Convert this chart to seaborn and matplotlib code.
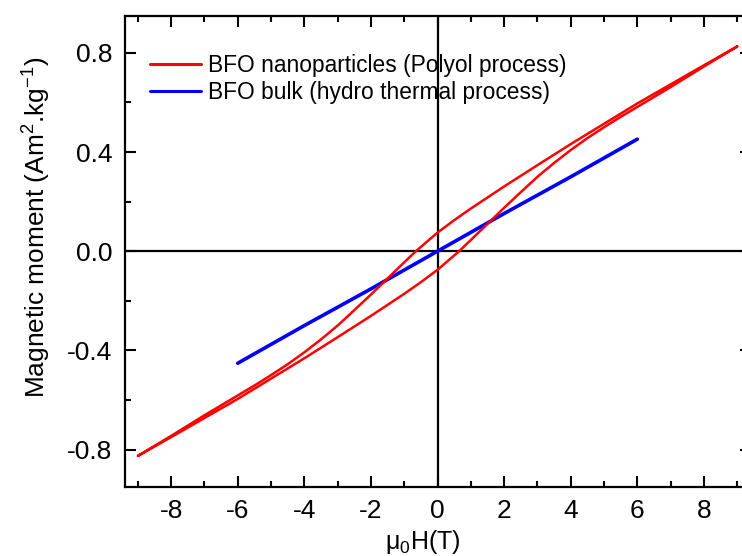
import matplotlib
matplotlib.use("Agg")
import matplotlib.pyplot as plt
from matplotlib.ticker import MultipleLocator
import seaborn as sns
import pandas as pd

# Red loop: upper branch (field decreasing) then lower branch (field increasing)
nano_up_H = [9, 8, 7, 6, 5, 4, 3, 2, 1, 0.5, 0, -0.65, -1, -1.5, -2, -2.5, -3, -3.5,
             -4, -4.5, -5, -5.5, -6, -7, -8, -9]
nano_up_M = [0.826, 0.750, 0.673, 0.596, 0.514, 0.432, 0.347, 0.261, 0.172, 0.125, 0.075,
             0.0, -0.045, -0.110, -0.175, -0.238, -0.300, -0.356, -0.408, -0.456, -0.500,
             -0.542, -0.582, -0.662, -0.745, -0.826]
nano_low_H = [-9, -8, -7, -6, -5, -4, -3, -2, -1, -0.5, 0, 0.65, 1, 1.5, 2, 2.5, 3, 3.5,
              4, 4.5, 5, 5.5, 6, 7, 8, 9]
nano_low_M = [-0.826, -0.750, -0.673, -0.596, -0.514, -0.432, -0.347, -0.261, -0.172, -0.125,
              -0.075, 0.0, 0.045, 0.110, 0.175, 0.238, 0.300, 0.356, 0.408, 0.456, 0.500,
              0.542, 0.582, 0.662, 0.745, 0.826]

bulk_H = [-6, -4, -2, 0, 2, 4, 6]
bulk_M = [-0.452, -0.300, -0.152, 0.0, 0.152, 0.300, 0.452]

x_ticks = [-8, -6, -4, -2, 0, 2, 4, 6, 8]
y_ticks = [-0.8, -0.4, 0.0, 0.4, 0.8]

label_nano = "BFO nanoparticles (Polyol process)"
label_bulk = "BFO bulk (hydro thermal process)"

sns.set_theme(style="ticks")
plt.rcParams['font.family'] = ['Liberation Sans', 'DejaVu Sans']
plt.rcParams['mathtext.fontset'] = 'custom'
plt.rcParams['mathtext.rm'] = 'Liberation Sans'
plt.rcParams['mathtext.it'] = 'Liberation Sans'
plt.rcParams['text.color'] = 'black'
plt.rcParams['axes.labelcolor'] = 'black'

fig = plt.figure(figsize=(7.42, 5.56), dpi=100)
W, H = 742, 556
left_px, top_px, bottom_px = 124.5, 15.7, 486.7
xmin, xmax = -9.4, 9.4
ppu = 33.3
ax_w = (xmax - xmin) * ppu
ax_h = bottom_px - top_px
ax = fig.add_axes([left_px / W, (H - bottom_px) / H, ax_w / W, ax_h / H])

nano_df = pd.DataFrame({"H": nano_up_H + nano_low_H, "M": nano_up_M + nano_low_M})
bulk_df = pd.DataFrame({"H": bulk_H, "M": bulk_M})

ax.axhline(0, color='black', lw=1.6, zorder=1)
ax.axvline(0, color='black', lw=1.6, zorder=1)

sns.lineplot(data=nano_df, x="H", y="M", sort=False, estimator=None, color='#ff0000',
             lw=1.8, label=label_nano, ax=ax, zorder=3)
sns.lineplot(data=bulk_df, x="H", y="M", sort=False, estimator=None, color='#0000ff',
             lw=2.6, label=label_bulk, ax=ax, zorder=2)

ax.set_xlim(xmin, xmax)
ax.set_ylim(-0.95, 0.95)
ax.set_xticks(x_ticks)
ax.set_yticks(y_ticks)
ax.set_yticklabels([f"{v:.1f}" for v in y_ticks])
ax.set_xticklabels([str(v) for v in x_ticks])
ax.xaxis.set_minor_locator(MultipleLocator(1))
ax.yaxis.set_minor_locator(MultipleLocator(0.2))
ax.tick_params(which='both', direction='in', top=True, right=True, width=1.5,
               labelsize=19, colors='black')
ax.tick_params(which='major', length=8, pad=9)
ax.tick_params(which='minor', length=4.5)
for s in ax.spines.values():
    s.set_linewidth(1.6)
    s.set_color('black')

ax.set_xlabel(r"$\mathregular{μ_0}$H(T)", fontsize=18)
ax.xaxis.set_label_coords((423 - left_px) / ax_w, -(528 - bottom_px) / ax_h)
ax.set_ylabel(r"Magnetic moment (Am$\mathregular{^2}$.kg$\mathregular{^{-1}}$)", fontsize=18.9)
ax.yaxis.set_label_coords((53 - left_px) / ax_w, (bottom_px - 227) / ax_h)

leg = ax.legend(loc='upper left', bbox_to_anchor=(0.041, 0.919), frameon=False,
                fontsize=16.4, handlelength=2.24, handletextpad=0.28, labelspacing=0.2,
                borderpad=0, borderaxespad=0)
for line in leg.get_lines():
    line.set_linewidth(2.2)
for t in leg.get_texts():
    t.set_color('black')

fig.savefig("out.png", dpi=100)
